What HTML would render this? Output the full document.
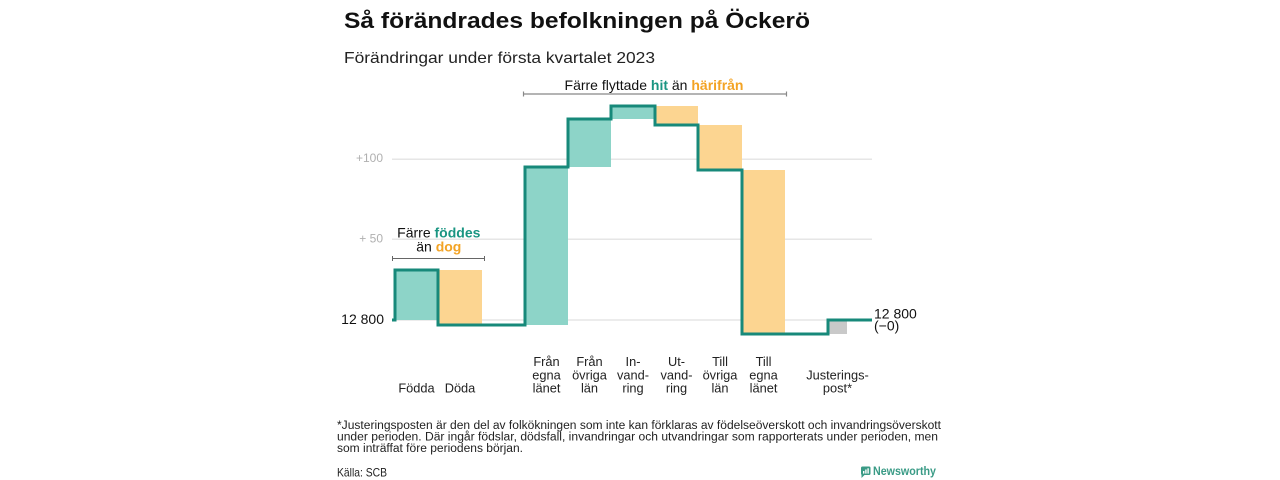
<!DOCTYPE html>
<html>
<head>
<meta charset="utf-8">
<style>
  html,body{margin:0;padding:0;background:#fff;}
  svg{display:block;}
  text{font-family:"Liberation Sans",Arial,sans-serif;}
</style>
</head>
<body>
<svg width="1280" height="480" viewBox="0 0 1280 480" xmlns="http://www.w3.org/2000/svg">
  <rect width="1280" height="480" fill="#fff"/>

  <!-- Title & subtitle -->
  <text x="344" y="28" font-size="22.5" font-weight="bold" fill="#111" textLength="466" lengthAdjust="spacingAndGlyphs">Så förändrades befolkningen på Öckerö</text>
  <text x="344" y="63" font-size="16" fill="#222" textLength="311" lengthAdjust="spacingAndGlyphs">Förändringar under första kvartalet 2023</text>

  <!-- Gridlines -->
  <g stroke="#e6e6e6" stroke-width="1.5">
    <line x1="392" y1="159.3" x2="872" y2="159.3"/>
    <line x1="392" y1="239.3" x2="872" y2="239.3"/>
    <line x1="392" y1="320" x2="872" y2="320"/>
  </g>

  <!-- Axis labels -->
  <text x="383" y="162" font-size="12" fill="#b0b0b0" text-anchor="end">+100</text>
  <text x="383" y="242.5" font-size="12" fill="#b0b0b0" text-anchor="end">+ 50</text>
  <text x="384" y="324" font-size="14" fill="#111" text-anchor="end">12 800</text>

  <!-- Fills -->
  <g>
    <rect x="395" y="270" width="43" height="50" fill="#8dd4c8"/>
    <rect x="438" y="270" width="44" height="55" fill="#fcd591"/>
    <rect x="525" y="167" width="43" height="158" fill="#8dd4c8"/>
    <rect x="568" y="119" width="43" height="48" fill="#8dd4c8"/>
    <rect x="611" y="106" width="44" height="13" fill="#8dd4c8"/>
    <rect x="655" y="106" width="43" height="19" fill="#fcd591"/>
    <rect x="698" y="125" width="44" height="45" fill="#fcd591"/>
    <rect x="742" y="170" width="43" height="164" fill="#fcd591"/>
    <rect x="828" y="320" width="19" height="14" fill="#c9c9c9"/>
  </g>

  <!-- Step line -->
  <path d="M392,320 L395,320 L395,270 L438,270 L438,325 L525,325 L525,167 L568,167 L568,119 L611,119 L611,106 L655,106 L655,125 L698,125 L698,170 L742,170 L742,334 L828,334 L828,320 L872,320"
        fill="none" stroke="#17897a" stroke-width="3" stroke-linejoin="miter"/>

  <!-- Right end label -->
  <text x="874" y="318.3" font-size="14" fill="#111">12 800</text>
  <text x="874" y="330.5" font-size="14" fill="#111">(−0)</text>

  <!-- Annotation: Färre föddes än dog -->
  <text x="438.8" y="237.5" font-size="14" fill="#111" text-anchor="middle">Färre <tspan font-weight="bold" fill="#1a9582">föddes</tspan></text>
  <text x="438.8" y="251.5" font-size="14" fill="#111" text-anchor="middle">än <tspan font-weight="bold" fill="#f3a324">dog</tspan></text>
  <g stroke="#666" stroke-width="1">
    <line x1="392" y1="258.5" x2="485" y2="258.5"/>
    <line x1="392.5" y1="256" x2="392.5" y2="261"/>
    <line x1="484.5" y1="256" x2="484.5" y2="261"/>
  </g>

  <!-- Annotation: Färre flyttade hit än härifrån -->
  <text x="654" y="90" font-size="14" fill="#111" text-anchor="middle">Färre flyttade <tspan font-weight="bold" fill="#1a9582">hit</tspan> än <tspan font-weight="bold" fill="#f3a324">härifrån</tspan></text>
  <g stroke="#888" stroke-width="1.2">
    <line x1="523" y1="94" x2="787" y2="94"/>
    <line x1="523.5" y1="91.5" x2="523.5" y2="96.5"/>
    <line x1="786.5" y1="91.5" x2="786.5" y2="96.5"/>
  </g>

  <!-- Category labels -->
  <g font-size="12.8" fill="#222" text-anchor="middle">
    <text x="416.5" y="392.7">Födda</text>
    <text x="460" y="392.7">Döda</text>

    <text x="546.5" y="366">Från</text>
    <text x="546.5" y="379.3">egna</text>
    <text x="546.5" y="392.7">länet</text>

    <text x="589.5" y="366">Från</text>
    <text x="589.5" y="379.3">övriga</text>
    <text x="589.5" y="392.7">län</text>

    <text x="633" y="366">In-</text>
    <text x="633" y="379.3">vand-</text>
    <text x="633" y="392.7">ring</text>

    <text x="676.5" y="366">Ut-</text>
    <text x="676.5" y="379.3">vand-</text>
    <text x="676.5" y="392.7">ring</text>

    <text x="720" y="366">Till</text>
    <text x="720" y="379.3">övriga</text>
    <text x="720" y="392.7">län</text>

    <text x="763.5" y="366">Till</text>
    <text x="763.5" y="379.3">egna</text>
    <text x="763.5" y="392.7">länet</text>

    <text x="837.5" y="379.3">Justerings-</text>
    <text x="837.5" y="392.7">post*</text>
  </g>

  <!-- Footnote -->
  <g font-size="11.5" fill="#222">
    <text x="337" y="429" textLength="604" lengthAdjust="spacingAndGlyphs">*Justeringsposten är den del av folkökningen som inte kan förklaras av födelseöverskott och invandringsöverskott</text>
    <text x="337" y="440.5" textLength="601" lengthAdjust="spacingAndGlyphs">under perioden. Där ingår födslar, dödsfall, invandringar och utvandringar som rapporterats under perioden, men</text>
    <text x="337" y="452" textLength="186" lengthAdjust="spacingAndGlyphs">som inträffat före periodens början.</text>
    <text x="337" y="476.7" font-size="12" textLength="50" lengthAdjust="spacingAndGlyphs">Källa: SCB</text>
  </g>

  <!-- Newsworthy logo -->
  <g>
    <rect x="861" y="466.5" width="9.5" height="8.5" rx="1.5" fill="#3a9b86"/>
    <path d="M861.5,474 L861.5,478 L865,474.5 Z" fill="#3a9b86"/>
    <rect x="863" y="471" width="1.4" height="2.6" fill="#fff"/>
    <rect x="865.2" y="469.5" width="1.4" height="4.1" fill="#fff"/>
    <rect x="867.4" y="468.3" width="1.4" height="5.3" fill="#fff"/>
    <text x="873" y="474.8" font-size="11.5" font-weight="bold" fill="#3a9b86" textLength="63" lengthAdjust="spacingAndGlyphs">Newsworthy</text>
  </g>
</svg>
</body>
</html>
